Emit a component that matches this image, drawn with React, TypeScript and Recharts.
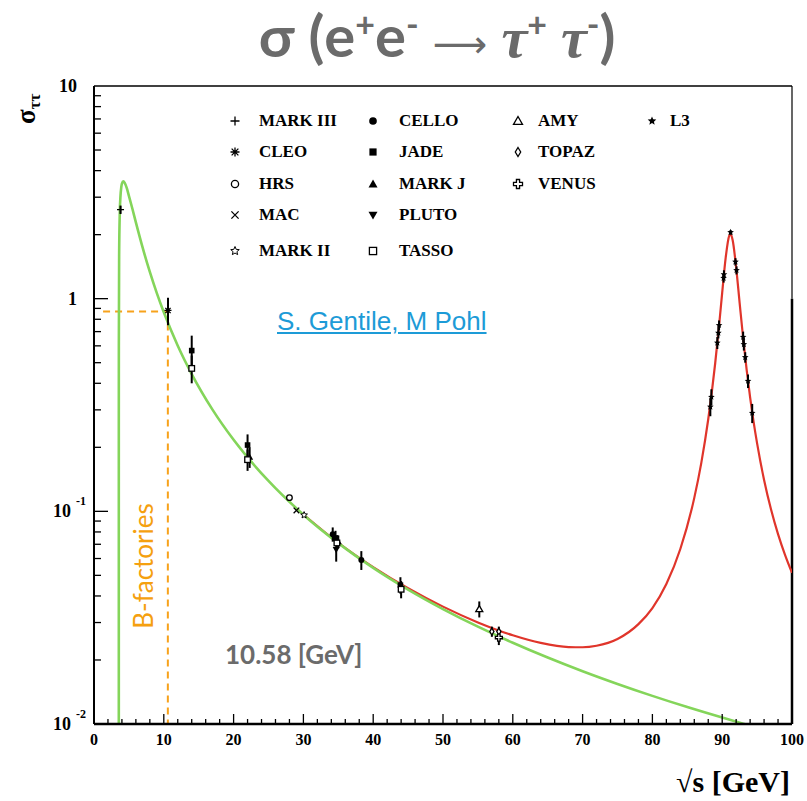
import React from "react";
import {
  ComposedChart,
  Line,
  Scatter,
  ErrorBar,
  XAxis,
  YAxis,
  ReferenceLine,
} from "recharts";

// QED curve (green), sqrt(s) in GeV, sigma in nb
const qedEnergy = [
  3.554, 3.555, 3.56, 3.6, 3.7, 3.8, 3.9, 4.0, 4.2, 4.4, 4.7, 5, 5.5, 6, 7, 8, 9,
  10, 12, 14, 17, 20, 25, 30, 35, 40, 45, 50, 55, 60, 65, 70, 75, 80, 85, 90, 93, 95,
];
const qedSigma = [
  0.001, 0.2425, 0.598, 1.587, 2.577, 3.058, 3.326, 3.472, 3.561, 3.506, 3.307,
  3.046, 2.647, 2.284, 1.723, 1.335, 1.061, 0.8625, 0.601, 0.4422, 0.3, 0.2169,
  0.1389, 0.09644, 0.07086, 0.05425, 0.04286, 0.03472, 0.02869, 0.02411, 0.02054,
  0.01771, 0.01543, 0.01356, 0.01201, 0.01072, 0.01004, 0.00962,
];

// QED + Z curve (red)
const zEnergy = [
  30, 35, 40, 45, 50, 55, 60, 64, 68, 70, 72, 75, 78, 80, 82, 84, 86, 87, 88, 88.5,
  89, 89.5, 90, 90.5, 91, 91.2, 91.5, 92, 92.5, 93, 93.5, 94, 94.5, 95, 96, 97, 98,
  99, 100,
];
const zSigma = [
  0.09664, 0.07116, 0.0547, 0.0435, 0.03564, 0.03004, 0.02613, 0.02406, 0.023,
  0.02295, 0.02333, 0.02511, 0.02949, 0.03511, 0.04554, 0.0665, 0.1157, 0.1686,
  0.271, 0.3604, 0.4983, 0.7179, 1.067, 1.559, 1.974, 2.0095, 1.881, 1.401, 0.9536,
  0.6531, 0.4642, 0.3435, 0.2635, 0.2086, 0.1405, 0.102, 0.07815, 0.06239, 0.0514,
];

// measurements: x = sqrt(s), y = sigma, e = error
const markIII = [{ x: 3.8, y: 2.62, e: 0.12 }];
const cleo = [{ x: 10.6, y: 0.88, e: 0.13 }];
const hrs = [{ x: 28.0, y: 0.116, e: 0 }];
const mac = [{ x: 29.0, y: 0.101, e: 0 }];
const markII = [{ x: 30.1, y: 0.096, e: 0 }];
const cello = [
  { x: 34.2, y: 0.078, e: 0.006 },
  { x: 38.3, y: 0.059, e: 0.006 },
];
const jade = [
  { x: 14.0, y: 0.57, e: 0.1 },
  { x: 22.0, y: 0.205, e: 0.025 },
  { x: 34.6, y: 0.075, e: 0.006 },
  { x: 43.9, y: 0.045, e: 0.004 },
];
const markJ = [
  { x: 22.3, y: 0.18, e: 0.02 },
  { x: 35.0, y: 0.072, e: 0.005 },
];
const pluto = [{ x: 34.7, y: 0.066, e: 0.008 }];
const tasso = [
  { x: 14.0, y: 0.47, e: 0.07 },
  { x: 22.0, y: 0.175, e: 0.02 },
  { x: 34.8, y: 0.071, e: 0.005 },
  { x: 44.0, y: 0.043, e: 0.004 },
];
const amy = [{ x: 55.2, y: 0.0347, e: 0.003 }];
const topaz = [
  { x: 57.0, y: 0.0272, e: 0.0015 },
  { x: 58.0, y: 0.0272, e: 0.0015 },
];
const venus = [{ x: 58.0, y: 0.0255, e: 0.002 }];
const l3 = [
  { x: 88.3, y: 0.31, e: 0.03 },
  { x: 88.45, y: 0.345, e: 0.03 },
  { x: 89.3, y: 0.62, e: 0.04 },
  { x: 89.45, y: 0.69, e: 0.04 },
  { x: 89.55, y: 0.75, e: 0.04 },
  { x: 90.2, y: 1.25, e: 0.06 },
  { x: 90.25, y: 1.3, e: 0.06 },
  { x: 91.2, y: 2.05, e: 0.05 },
  { x: 91.9, y: 1.49, e: 0.06 },
  { x: 92.05, y: 1.36, e: 0.06 },
  { x: 93.0, y: 0.66, e: 0.04 },
  { x: 93.1, y: 0.61, e: 0.04 },
  { x: 93.3, y: 0.53, e: 0.03 },
  { x: 93.7, y: 0.41, e: 0.03 },
  { x: 94.3, y: 0.29, e: 0.03 },
];

const experiments = [
  { name: "MARK III", shape: "plus", data: markIII, col: 0, row: 0 },
  { name: "CLEO", shape: "asterisk", data: cleo, col: 0, row: 1 },
  { name: "HRS", shape: "circle", data: hrs, col: 0, row: 2 },
  { name: "MAC", shape: "cross", data: mac, col: 0, row: 3 },
  { name: "MARK II", shape: "starOpen", data: markII, col: 0, row: 4 },
  { name: "CELLO", shape: "dot", data: cello, col: 1, row: 0 },
  { name: "JADE", shape: "square", data: jade, col: 1, row: 1 },
  { name: "MARK J", shape: "triUp", data: markJ, col: 1, row: 2 },
  { name: "PLUTO", shape: "triDown", data: pluto, col: 1, row: 3 },
  { name: "TASSO", shape: "squareOpen", data: tasso, col: 1, row: 4 },
  { name: "AMY", shape: "triOpen", data: amy, col: 2, row: 0 },
  { name: "TOPAZ", shape: "diamond", data: topaz, col: 2, row: 1 },
  { name: "VENUS", shape: "crossOpen", data: venus, col: 2, row: 2 },
  { name: "L3", shape: "star", data: l3, col: 3, row: 0 },
];

const bFactoryEnergy = 10.58;
const bFactorySigma = 0.87;

const xTicks = Array.from({ length: 51 }, (_, i) => i * 2);
const yTicks = [0.01, 0.1, 1].flatMap((d) =>
  [1, 2, 3, 4, 5, 6, 7, 8, 9].map((m) => Number((m * d).toPrecision(2)))
).concat([10]);

const SERIF = '"Liberation Serif", "Times New Roman", serif';
const SANS = 'Lato, "Open Sans", sans-serif';

const qedCurve = qedEnergy.map((x, i) => ({ x, y: qedSigma[i] }));
const zCurve = zEnergy.map((x, i) => ({ x, y: zSigma[i] }));

function starPoints(cx: number, cy: number, R: number, r: number) {
  const pts: string[] = [];
  for (let i = 0; i < 10; i++) {
    const a = -Math.PI / 2 + (i * Math.PI) / 5;
    const rad = i % 2 === 0 ? R : r;
    pts.push(`${cx + rad * Math.cos(a)},${cy + rad * Math.sin(a)}`);
  }
  return pts.join(" ");
}

function Marker({ kind, cx, cy, s = 4 }: { kind: string; cx: number; cy: number; s?: number }) {
  const k = { stroke: "#000", strokeWidth: 1.3 };
  switch (kind) {
    case "plus":
      return <path d={`M${cx - s},${cy}H${cx + s}M${cx},${cy - s}V${cy + s}`} {...k} />;
    case "asterisk":
      return (
        <path
          d={`M${cx - s},${cy}H${cx + s}M${cx},${cy - s}V${cy + s}M${cx - s * 0.75},${cy - s * 0.75}L${cx + s * 0.75},${cy + s * 0.75}M${cx - s * 0.75},${cy + s * 0.75}L${cx + s * 0.75},${cy - s * 0.75}`}
          {...k}
        />
      );
    case "circle":
      return <circle cx={cx} cy={cy} r={s * 0.8} fill="#fff" {...k} />;
    case "cross":
      return (
        <path
          d={`M${cx - s * 0.8},${cy - s * 0.8}L${cx + s * 0.8},${cy + s * 0.8}M${cx - s * 0.8},${cy + s * 0.8}L${cx + s * 0.8},${cy - s * 0.8}`}
          {...k}
        />
      );
    case "starOpen":
      return <polygon points={starPoints(cx, cy, s, s * 0.45)} fill="#fff" {...k} strokeWidth={1} />;
    case "dot":
      return <circle cx={cx} cy={cy} r={s * 0.85} fill="#000" />;
    case "square":
      return <rect x={cx - s * 0.8} y={cy - s * 0.8} width={s * 1.6} height={s * 1.6} fill="#000" />;
    case "triUp":
      return <polygon points={`${cx},${cy - s} ${cx + s},${cy + s * 0.75} ${cx - s},${cy + s * 0.75}`} fill="#000" />;
    case "triDown":
      return <polygon points={`${cx},${cy + s} ${cx + s},${cy - s * 0.75} ${cx - s},${cy - s * 0.75}`} fill="#000" />;
    case "squareOpen":
      return <rect x={cx - s * 0.8} y={cy - s * 0.8} width={s * 1.6} height={s * 1.6} fill="#fff" {...k} />;
    case "triOpen":
      return <polygon points={`${cx},${cy - s} ${cx + s},${cy + s * 0.75} ${cx - s},${cy + s * 0.75}`} fill="#fff" {...k} />;
    case "diamond":
      return <polygon points={`${cx},${cy - s} ${cx + s * 0.6},${cy} ${cx},${cy + s} ${cx - s * 0.6},${cy}`} fill="#fff" {...k} />;
    case "crossOpen": {
      const a = s * 0.35;
      return (
        <polygon
          points={`${cx - a},${cy - s} ${cx + a},${cy - s} ${cx + a},${cy - a} ${cx + s},${cy - a} ${cx + s},${cy + a} ${cx + a},${cy + a} ${cx + a},${cy + s} ${cx - a},${cy + s} ${cx - a},${cy + a} ${cx - s},${cy + a} ${cx - s},${cy - a} ${cx - a},${cy - a}`}
          fill="#fff"
          {...k}
        />
      );
    }
    case "star":
      return <polygon points={starPoints(cx, cy, s, s * 0.45)} fill="#000" />;
    default:
      return null;
  }
}

function XTick(props: any) {
  const { x, y, payload } = props;
  const major = payload.value % 10 === 0;
  return (
    <g>
      <line x1={x} y1={y} x2={x} y2={y - (major ? 10 : 5)} stroke="#000" strokeWidth={1.3} />
      {major && (
        <text x={x} y={y + 21} textAnchor="middle" fontFamily={SERIF} fontWeight="bold" fontSize={16} fill="#000">
          {payload.value}
        </text>
      )}
    </g>
  );
}

function YTick(props: any) {
  const { x, y, payload } = props;
  const v = payload.value;
  const lg = Math.log10(v);
  const major = Math.abs(lg - Math.round(lg)) < 1e-6;
  const exp = Math.round(lg);
  let label = null;
  if (major) {
    const common = { fontFamily: SERIF, fontWeight: "bold", fill: "#000" } as const;
    if (exp >= 0) {
      label = (
        <text x={x - 17} y={y + 6} textAnchor="end" fontSize={18} {...common}>
          {exp === 0 ? "1" : "10"}
        </text>
      );
    } else {
      label = (
        <text x={x - 41} y={y + 6} textAnchor="start" fontSize={18} {...common}>
          10
          <tspan fontSize={12} dx={5} dy={-12}>
            {String(exp)}
          </tspan>
        </text>
      );
    }
  }
  return (
    <g>
      {v < 10 && (
        <line x1={x} y1={y} x2={x + (major ? 14 : 7)} y2={y} stroke="#000" strokeWidth={1.3} />
      )}
      {label}
    </g>
  );
}

function Legend() {
  const colSym = [235, 373, 518, 652];
  const colText = [259, 399, 538, 670];
  const rowY = [120.5, 152, 183.5, 215, 251];
  return (
    <>
      {experiments.map((ex) => (
        <React.Fragment key={ex.name}>
          <svg
            width={16}
            height={16}
            style={{ position: "absolute", left: colSym[ex.col] - 8, top: rowY[ex.row] - 8 }}
          >
            <Marker kind={ex.shape} cx={8} cy={8} s={4.5} />
          </svg>
          <div
            style={{
              position: "absolute",
              left: colText[ex.col],
              top: rowY[ex.row] - 11,
              fontFamily: SERIF,
              fontWeight: "bold",
              fontSize: 17,
              lineHeight: "22px",
              whiteSpace: "nowrap",
              color: "#000",
            }}
          >
            {ex.name}
          </div>
        </React.Fragment>
      ))}
    </>
  );
}

export default function App() {
  const sup = { fontSize: 34 };
  return (
    <div style={{ position: "absolute", left: 0, top: 0, width: 807, height: 801, background: "#fff", overflow: "hidden" }}>
      <div
        style={{
          position: "absolute",
          left: 0,
          top: -6,
          width: 874,
          textAlign: "center",
          fontFamily: SANS,
          fontWeight: "bold",
          fontSize: 58,
          lineHeight: "60px",
          color: "#6b6b6b",
          whiteSpace: "nowrap",
        }}
      >
        σ (e<sup style={sup}>+</sup>e<sup style={sup}>-</sup>{" "}
        <span style={{ fontFamily: '"DejaVu Sans"', fontWeight: "normal", fontSize: 38 }}>⟶</span>{" "}
        <span style={{ fontFamily: SERIF, fontStyle: "italic" }}>τ</span>
        <sup style={sup}>+</sup>{" "}
        <span style={{ fontFamily: SERIF, fontStyle: "italic" }}>τ</span>
        <sup style={sup}>-</sup>)
      </div>

      <ComposedChart
        width={807}
        height={801}
        margin={{ top: 86, right: 15, left: 34, bottom: 37 }}
        style={{ position: "absolute", left: 0, top: 0 }}
      >
        <XAxis
          dataKey="x"
          type="number"
          domain={[0, 100]}
          ticks={xTicks}
          interval={0}
          height={40}
          tickSize={0}
          tickMargin={0}
          tickLine={false}
          axisLine={{ stroke: "#000", strokeWidth: 2.5 }}
          tick={<XTick />}
          allowDataOverflow
          label={{
            content: ({ viewBox }: any) => (
              <text
                x={viewBox.x + viewBox.width - 2}
                y={viewBox.y + 68}
                textAnchor="end"
                fontFamily={SERIF}
                fontWeight="bold"
                fontSize={30}
                fill="#000"
              >
                √s [GeV]
              </text>
            ),
          }}
        />
        <YAxis
          dataKey="y"
          type="number"
          scale="log"
          domain={[0.01, 10]}
          ticks={yTicks}
          interval={0}
          width={60}
          tickSize={0}
          tickMargin={0}
          tickLine={false}
          axisLine={{ stroke: "#000", strokeWidth: 2 }}
          tick={<YTick />}
          allowDataOverflow
          label={{
            content: ({ viewBox }: any) => {
              const bx = viewBox.x + 1;
              const by = viewBox.y + 38;
              return (
                <text
                  x={bx}
                  y={by}
                  transform={`rotate(-90 ${bx} ${by})`}
                  fontFamily={SERIF}
                  fontWeight="bold"
                  fontSize={27}
                  fill="#000"
                >
                  σ
                  <tspan fontSize={17} dy={5}>
                    ττ
                  </tspan>
                </text>
              );
            },
          }}
        />

        <ReferenceLine y={10} stroke="#000" strokeWidth={1.5} />
        <ReferenceLine segment={[{ x: 100, y: 10 }, { x: 100, y: 1 }]} stroke="#000" strokeWidth={1.2} />
        <ReferenceLine segment={[{ x: 100, y: 1 }, { x: 100, y: 0.01 }]} stroke="#000" strokeWidth={2.5} />

        <ReferenceLine
          segment={[{ x: 1.3, y: bFactorySigma }, { x: bFactoryEnergy, y: bFactorySigma }]}
          stroke="#f7a21b"
          strokeWidth={2}
          strokeDasharray="7 5"
        />
        <ReferenceLine
          segment={[{ x: bFactoryEnergy, y: bFactorySigma }, { x: bFactoryEnergy, y: 0.01 }]}
          stroke="#f7a21b"
          strokeWidth={2}
          strokeDasharray="7 5"
        />

        <Line
          data={zCurve}
          dataKey="y"
          type="monotone"
          stroke="#e0352b"
          strokeWidth={2.2}
          dot={false}
          activeDot={false}
          isAnimationActive={false}
        />
        <Line
          data={qedCurve}
          dataKey="y"
          type="monotone"
          stroke="#84d55a"
          strokeWidth={2.6}
          dot={false}
          activeDot={false}
          isAnimationActive={false}
        />

        {experiments.map((ex) => (
          <Scatter
            key={ex.name}
            name={ex.name}
            data={ex.data}
            dataKey="y"
            isAnimationActive={false}
            shape={(p: any) => <Marker kind={ex.shape} cx={p.cx} cy={p.cy} s={3.5} />}
          >
            <ErrorBar dataKey="e" direction="y" width={0} stroke="#000" strokeWidth={2} />
          </Scatter>
        ))}
      </ComposedChart>

      <Legend />

      <div
        style={{
          position: "absolute",
          left: 277,
          top: 306,
          fontFamily: '"Liberation Sans", Arial, sans-serif',
          fontSize: 26,
          lineHeight: "30px",
          color: "#1d9bd7",
          textDecoration: "underline",
          whiteSpace: "nowrap",
        }}
      >
        S. Gentile, M Pohl
      </div>

      <div
        style={{
          position: "absolute",
          left: 143,
          top: 566,
          transform: "translate(-50%, -50%) rotate(-90deg)",
          fontFamily: SANS,
          fontSize: 26,
          color: "#f5a00f",
          whiteSpace: "nowrap",
        }}
      >
        B-factories
      </div>

      <div
        style={{
          position: "absolute",
          left: 225,
          top: 638,
          fontFamily: SANS,
          fontWeight: "bold",
          fontSize: 26,
          lineHeight: "32px",
          color: "#6b6b6b",
          whiteSpace: "nowrap",
        }}
      >
        10.58 [GeV]
      </div>
    </div>
  );
}
